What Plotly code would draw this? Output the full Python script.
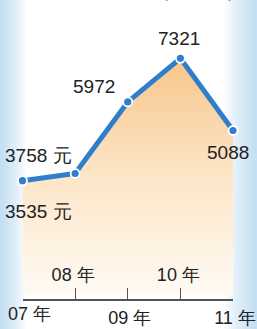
import plotly.graph_objects as go

years = ["07", "08", "09", "10", "11"]
prices = [3535, 3758, 5972, 7321, 5088]
value_labels = ["3535 元", "3758 元", "5972", "7321", "5088"]
tick_first = ["07 年"]
tick_below = ["09 年", "11 年"]
tick_above = ["08 年", "10 年"]
unit_text = "（元/平米）"

W, H = 257, 329
FONT = "Liberation Sans, Arial, sans-serif"
xs = list(range(len(years)))

X0, X1 = 22.5, 233.0          # pixel x of first / last year
Y_ZERO, SLOPE = 295.0, 0.03233  # pixel y of value 0, pixels per unit
Y_AXIS = 299

def px_x(p):
    return p / W

def px_y(p):
    return 1 - p / H

fig = go.Figure()

fig.add_trace(go.Scatter(
    x=xs, y=prices, mode="lines+markers",
    fill="tozeroy",
    fillgradient=dict(type="vertical", start=0, stop=7321,
                      colorscale=[[0, "#fffaf4"], [0.5, "#fde6c8"], [1, "#f7c58a"]]),
    line=dict(color="#2f7ecb", width=5),
    marker=dict(size=9, color="#2f7ecb", line=dict(color="white", width=1.8)),
    cliponaxis=False, showlegend=False, hoverinfo="skip", xaxis="x", yaxis="y",
))
for ax in ("x2", "x3"):
    fig.add_trace(go.Scatter(x=[xs[0], xs[-1]], y=[0, 0], mode="markers",
                             marker=dict(opacity=0), showlegend=False, hoverinfo="skip",
                             xaxis=ax, yaxis="y"))

# value labels (paper coordinates so they can sit outside the axis range)
lab_px = [(3, 211.5, "left"), (3, 155, "left"), (93.5, 87, "center"),
          (179, 38.5, "center"), (228, 152, "center")]
for i in range(len(years)):
    lx, ly, anc = lab_px[i]
    fig.add_annotation(xref="paper", yref="paper", x=px_x(lx), y=px_y(ly),
                       text=value_labels[i], showarrow=False,
                       xanchor=anc, yanchor="middle",
                       font=dict(size=19, color="#222222", family=FONT))

fig.add_annotation(xref="paper", yref="paper", x=px_x(198), y=px_y(4), text=unit_text,
                   showarrow=False, xanchor="center", yanchor="bottom",
                   font=dict(size=17, color="#444444", family=FONT))

# soft light-blue edges of the background
shapes = []
N = 14
for k in range(N):
    shapes.append(dict(type="rect", xref="paper", yref="paper", x0=0, x1=px_x(1 + k * 1.9),
                       y0=0, y1=1, fillcolor="#a9d8f4", opacity=0.065, line=dict(width=0),
                       layer="below"))
    shapes.append(dict(type="rect", xref="paper", yref="paper", x0=1 - px_x(1 + k * 2.4), x1=1,
                       y0=0, y1=1, fillcolor="#a9d8f4", opacity=0.065, line=dict(width=0),
                       layer="below"))
fig.update_layout(shapes=shapes)

x_dom = [X0 / W, X1 / W]
tickfont = dict(size=18, color="#222222", family=FONT)
fig.update_layout(
    width=W, height=H, margin=dict(l=0, r=0, t=0, b=0, pad=0),
    paper_bgcolor="white", plot_bgcolor="rgba(0,0,0,0)",
    hovermode=False,
    xaxis=dict(domain=x_dom, range=[0, 4], tickvals=[2, 4], ticktext=tick_below,
               automargin=False, ticklabeloverflow="allow", ticklabelshift=2,
               showgrid=False, zeroline=False, showline=True, linecolor="#555555", linewidth=1.6,
               ticks="inside", ticklen=11, tickwidth=1.4, tickcolor="#555555",
               ticklabelstandoff=2, tickfont=tickfont, anchor="y"),
    xaxis2=dict(domain=x_dom, range=[0, 4], tickvals=[1, 3], ticktext=tick_above,
                automargin=False, ticklabeloverflow="allow", ticklabelshift=-2,
                overlaying="x", anchor="y", side="bottom", showgrid=False, zeroline=False,
                showline=False, ticks="inside", ticklen=11, tickwidth=1.4, tickcolor="#555555",
                ticklabelposition="inside", ticklabelstandoff=4, tickfont=tickfont),
    xaxis3=dict(domain=x_dom, range=[0, 4], tickvals=[0], ticktext=tick_first,
                automargin=False, ticklabeloverflow="allow", ticklabelshift=7,
                overlaying="x", anchor="y", side="bottom", showgrid=False, zeroline=False,
                showline=False, ticks="inside", ticklen=11, tickwidth=1.4, tickcolor="#555555",
                ticklabelstandoff=2, tickfont=tickfont),
    yaxis=dict(domain=[(H - Y_AXIS) / H, 1], automargin=False,
               range=[(Y_ZERO - Y_AXIS) / SLOPE, Y_ZERO / SLOPE],
               visible=False, showgrid=False, zeroline=False),
)

fig.write_html("out.html", config={"displayModeBar": False},
               post_script="document.body.style.margin='0';document.body.style.overflow='hidden';")
